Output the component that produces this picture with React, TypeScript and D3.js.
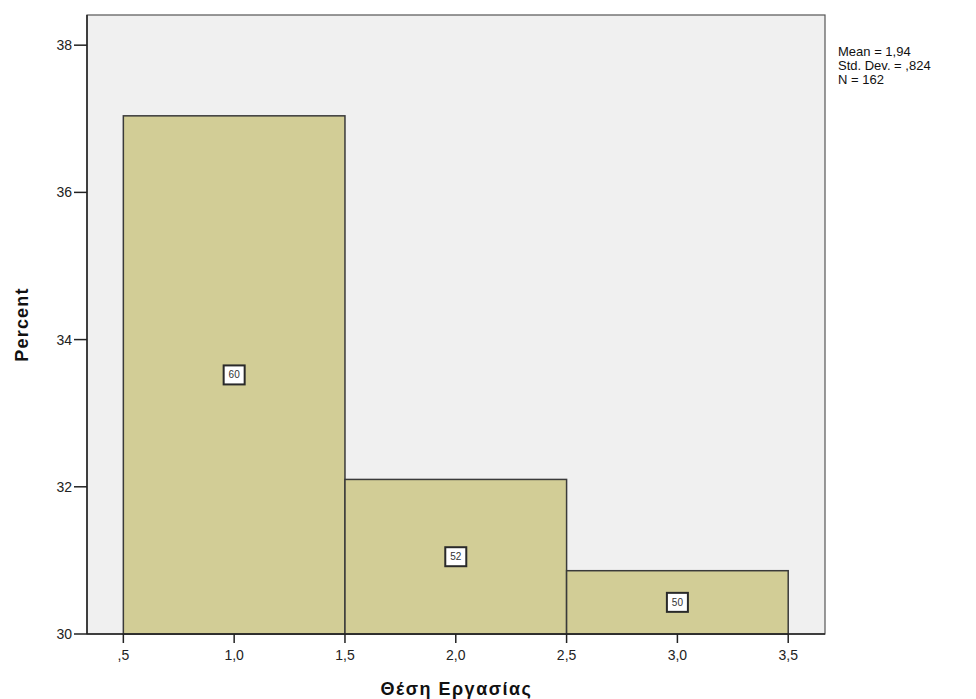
import React from "react";
import * as d3 from "d3";

const binStarts = [0.5, 1.5, 2.5];
const binEnds = [1.5, 2.5, 3.5];
const counts = [60, 52, 50];
const percents = [37.04, 32.1, 30.86];
const yTicks = [30, 32, 34, 36, 38];
const xTicks = [0.5, 1.0, 1.5, 2.0, 2.5, 3.0, 3.5];
const statsLines = ["Mean = 1,94", "Std. Dev. = ,824", "N = 162"];
const xTitle = "Θέση Εργασίας";
const yTitle = "Percent";

const W = 976;
const H = 699;
const L = 87, R = 825, T = 15, B = 634;
const FONT = "Arial, 'Liberation Sans', sans-serif";

const fmtXT = (v: number) => {
  const s = v.toFixed(1).replace(".", ",");
  return s.startsWith("0") ? s.slice(1) : s;
};

export default function App() {
  const x = d3.scaleLinear().domain([0.336, 3.666]).range([L, R]);
  const y = d3.scaleLinear().domain([30, 38.41]).range([B, T]);
  return (
    <svg width={W} height={H} style={{ position: "absolute", left: 0, top: 0, background: "#fff" }}>
      <rect x={L} y={T} width={R - L} height={B - T} fill="#f0f0f0" stroke="#555" strokeWidth={1.2} />
      {percents.map((p, i) => {
        const x0 = x(binStarts[i]);
        const x1 = x(binEnds[i]);
        const yt = y(p);
        return (
          <rect key={i} x={x0} y={yt} width={x1 - x0} height={B - yt} fill="#d2cd96" stroke="#3a3a3a" strokeWidth={1.5} />
        );
      })}
      {percents.map((p, i) => {
        const cx = x((binStarts[i] + binEnds[i]) / 2);
        const cy = y((30 + p) / 2);
        return (
          <g key={"lab" + i}>
            <rect x={cx - 10.5} y={cy - 9.5} width={21} height={19} fill="#fff" stroke="#2a2a2a" strokeWidth={2} />
            <text x={cx} y={cy + 3.5} textAnchor="middle" fontFamily={FONT} fontSize={10} fill="#333">
              {counts[i]}
            </text>
          </g>
        );
      })}
      <line x1={L} x2={L} y1={T} y2={B} stroke="#222" strokeWidth={1.5} />
      <line x1={L} x2={R} y1={B} y2={B} stroke="#222" strokeWidth={1.5} />
      {yTicks.map((t) => (
        <g key={"y" + t}>
          <line x1={L - 13} x2={L} y1={y(t)} y2={y(t)} stroke="#222" strokeWidth={1.5} />
          <text x={L - 15} y={y(t) + 5} textAnchor="end" fontFamily={FONT} fontSize={14} fill="#222">
            {t}
          </text>
        </g>
      ))}
      {xTicks.map((t) => (
        <g key={"x" + t}>
          <line x1={x(t)} x2={x(t)} y1={B} y2={B + 9} stroke="#222" strokeWidth={1.5} />
          <text x={x(t)} y={B + 26} textAnchor="middle" fontFamily={FONT} fontSize={14} fill="#222">
            {fmtXT(t)}
          </text>
        </g>
      ))}
      <text x={(L + R) / 2 + 0.5} y={695} textAnchor="middle" fontFamily={FONT} fontSize={18} fontWeight="bold" letterSpacing={1.5} fill="#111">
        {xTitle}
      </text>
      <text transform={`translate(28, ${(T + B) / 2}) rotate(-90)`} textAnchor="middle" fontFamily={FONT} fontSize={18} fontWeight="bold" letterSpacing={1.2} fill="#111">
        {yTitle}
      </text>
      {statsLines.map((s, i) => (
        <text key={s} x={838} y={56 + i * 14} fontFamily={FONT} fontSize={13} fill="#111">
          {s}
        </text>
      ))}
    </svg>
  );
}
